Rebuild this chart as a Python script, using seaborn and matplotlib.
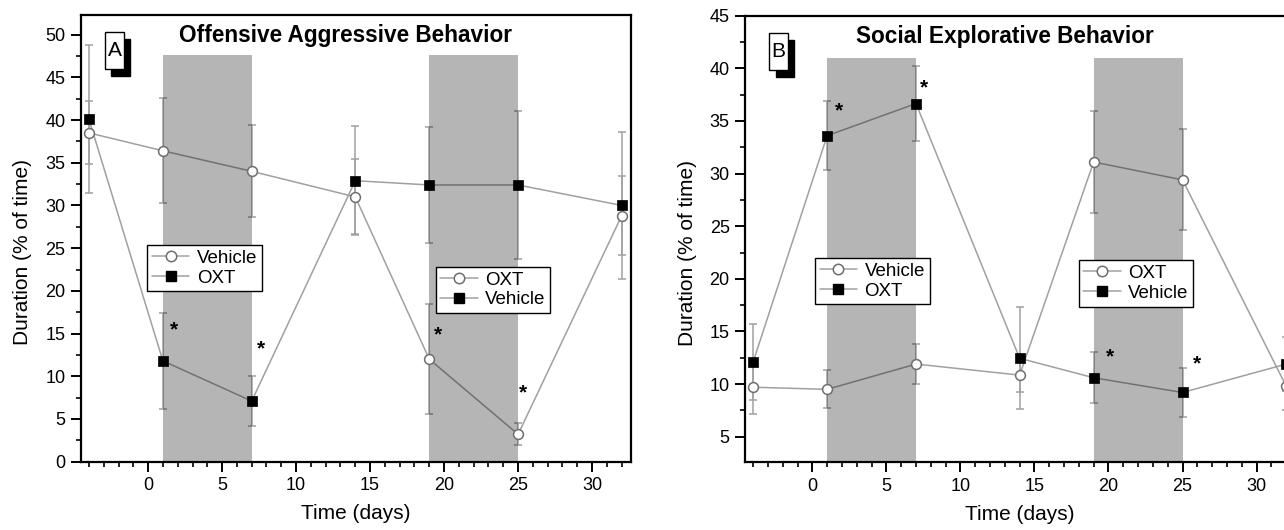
import numpy as np
import pandas as pd
import matplotlib
matplotlib.use("Agg")
import matplotlib.pyplot as plt
import seaborn as sns
from matplotlib.lines import Line2D
from matplotlib.patches import Rectangle
from matplotlib.ticker import MultipleLocator

# --- data ---
days = [-4, 1, 7, 14, 19, 25, 32]

# Panel A: offensive aggressive behavior
agg_open = [38.5, 36.4, 34.0, 31.0, 12.0, 3.2, 28.8]
agg_open_err = [3.7, 6.15, 5.4, 4.4, 6.45, 1.3, 4.6]
agg_filled = [40.1, 11.8, 7.1, 32.9, 32.4, 32.4, 30.0]
agg_filled_err = [8.65, 5.6, 2.95, 6.35, 6.8, 8.7, 8.6]
agg_stars_x = [1.75, 7.6, 19.6, 25.35]
agg_stars_y = [15.4, 13.2, 14.9, 8.0]

# Panel B: social explorative behavior
soc_open = [9.7, 9.5, 11.9, 10.85, 31.1, 29.4, 9.8]
soc_open_err = [2.55, 1.8, 1.9, 1.6, 4.8, 4.8, 2.3]
soc_filled = [12.1, 33.6, 36.65, 12.45, 10.6, 9.2, 11.9]
soc_filled_err = [3.6, 3.3, 3.55, 4.85, 2.4, 2.3, 2.6]
soc_stars_x = [1.8, 7.55, 20.1, 26.0]
soc_stars_y = [36.0, 38.1, 12.6, 11.9]

treatment_periods = [(1, 7), (19, 25)]
legend1_labels = ["Vehicle", "OXT"]
legend2_labels = ["OXT", "Vehicle"]

sns.set_style("ticks")
plt.rcParams["font.family"] = ["Liberation Sans", "DejaVu Sans"]
plt.rcParams["text.color"] = "black"
plt.rcParams["axes.labelcolor"] = "black"
plt.rcParams["xtick.color"] = "black"
plt.rcParams["ytick.color"] = "black"

LINE = "#a0a0a0"
EDGE = "#6e6e6e"

fig = plt.figure(figsize=(12.84, 5.3), dpi=100)
axA = fig.add_axes([0.0629, 0.1289, 0.4282, 0.8428])
axB = fig.add_axes([0.5802, 0.1274, 0.4284, 0.8430])


def draw_panel(ax, open_vals, open_err, filled_vals, filled_err, ylim, band_top,
               title, title_x, letter, stars_x, stars_y, leg1_pos, leg2_pos):
    df = pd.DataFrame({"day": days, "open": open_vals, "filled": filled_vals})
    for col, err in [("open", open_err), ("filled", filled_err)]:
        sns.lineplot(data=df, x="day", y=col, color=LINE, lw=1.1, ax=ax, zorder=1)
        ax.errorbar(df["day"], df[col], yerr=err, fmt="none", ecolor=LINE,
                    elinewidth=1.1, capsize=3, capthick=1.1, zorder=1)
    # shaded treatment periods (translucent so lines beneath look darker)
    for x0, x1 in treatment_periods:
        ax.axvspan(x0, x1, ymin=0, ymax=(band_top - ylim[0]) / (ylim[1] - ylim[0]),
                   color="black", alpha=0.29, lw=0, zorder=2)
    sns.scatterplot(data=df, x="day", y="open", marker="o", s=50, color="white",
                    edgecolor=EDGE, linewidth=1.1, ax=ax, zorder=4)
    sns.scatterplot(data=df, x="day", y="filled", marker="s", s=42, color="black",
                    edgecolor="black", linewidth=0.5, ax=ax, zorder=4)

    for sx, sy in zip(stars_x, stars_y):
        ax.text(sx, sy, "*", fontsize=15, fontweight="bold", ha="center",
                va="center", zorder=5)

    ax.set_xlim(-4.55, 32.6)
    ax.set_ylim(*ylim)
    ax.xaxis.set_major_locator(MultipleLocator(5))
    ax.xaxis.set_minor_locator(MultipleLocator(1))
    ax.yaxis.set_major_locator(MultipleLocator(5))
    ax.yaxis.set_minor_locator(MultipleLocator(2.5))
    ax.tick_params(which="major", direction="out", length=7, width=1.4,
                   labelsize=13, pad=4, color="black", labelcolor="black")
    ax.tick_params(which="minor", direction="out", length=3.8, width=1.2,
                   color="black")
    for sp in ax.spines.values():
        sp.set_visible(True)
        sp.set_linewidth(1.6)
        sp.set_color("black")

    ax.set_xlabel("Time (days)", fontsize=15)
    ax.set_ylabel("Duration (% of time)", fontsize=15)
    ax.xaxis.set_label_coords(0.5, -0.095)
    ax.yaxis.set_label_coords(-0.088, 0.469)

    ax.text(title_x, 0.953, title, transform=ax.transAxes, fontsize=16.3,
            fontweight="bold", ha="center", va="center")

    # boxed panel letter with drop shadow
    bx, by, bw, bh = 0.0445, 0.879, 0.0335, 0.082
    ax.add_patch(Rectangle((bx + 0.0112, by - 0.0157), bw, bh, transform=ax.transAxes,
                           facecolor="black", edgecolor="black", zorder=6))
    ax.add_patch(Rectangle((bx, by), bw, bh, transform=ax.transAxes,
                           facecolor="white", edgecolor="black", lw=1.0, zorder=7))
    ax.text(bx + bw / 2, by + bh / 2, letter, transform=ax.transAxes, fontsize=15,
            ha="center", va="center", zorder=8)

    def handles():
        return [Line2D([], [], color=LINE, lw=1.1, marker="o", ms=7.5,
                       mfc="white", mec=EDGE, mew=1.1),
                Line2D([], [], color=LINE, lw=1.1, marker="s", ms=6.8,
                       mfc="black", mec="black")]

    leg_kw = dict(loc="upper left", fontsize=13.5, frameon=True, fancybox=False,
                  borderaxespad=0, borderpad=0.25, handlelength=2.0,
                  handletextpad=0.4, labelspacing=0.15, edgecolor="black",
                  framealpha=1)
    leg1 = ax.legend(handles(), legend1_labels, bbox_to_anchor=leg1_pos, **leg_kw)
    leg1.get_frame().set_linewidth(1.0)
    leg1.set_zorder(9)
    ax.add_artist(leg1)
    leg2 = ax.legend(handles(), legend2_labels, bbox_to_anchor=leg2_pos, **leg_kw)
    leg2.get_frame().set_linewidth(1.0)
    leg2.set_zorder(9)


draw_panel(axA, agg_open, agg_open_err, agg_filled, agg_filled_err, (0, 52.3), 47.6,
           "Offensive Aggressive Behavior", 0.481, "A", agg_stars_x, agg_stars_y,
           (0.1206, 0.485), (0.6455, 0.4365))
draw_panel(axB, soc_open, soc_open_err, soc_filled, soc_filled_err, (2.55, 45), 41.0,
           "Social Explorative Behavior", 0.4725, "B", soc_stars_x, soc_stars_y,
           (0.127, 0.4577), (0.6067, 0.453))

fig.savefig("out.png", dpi=100)
